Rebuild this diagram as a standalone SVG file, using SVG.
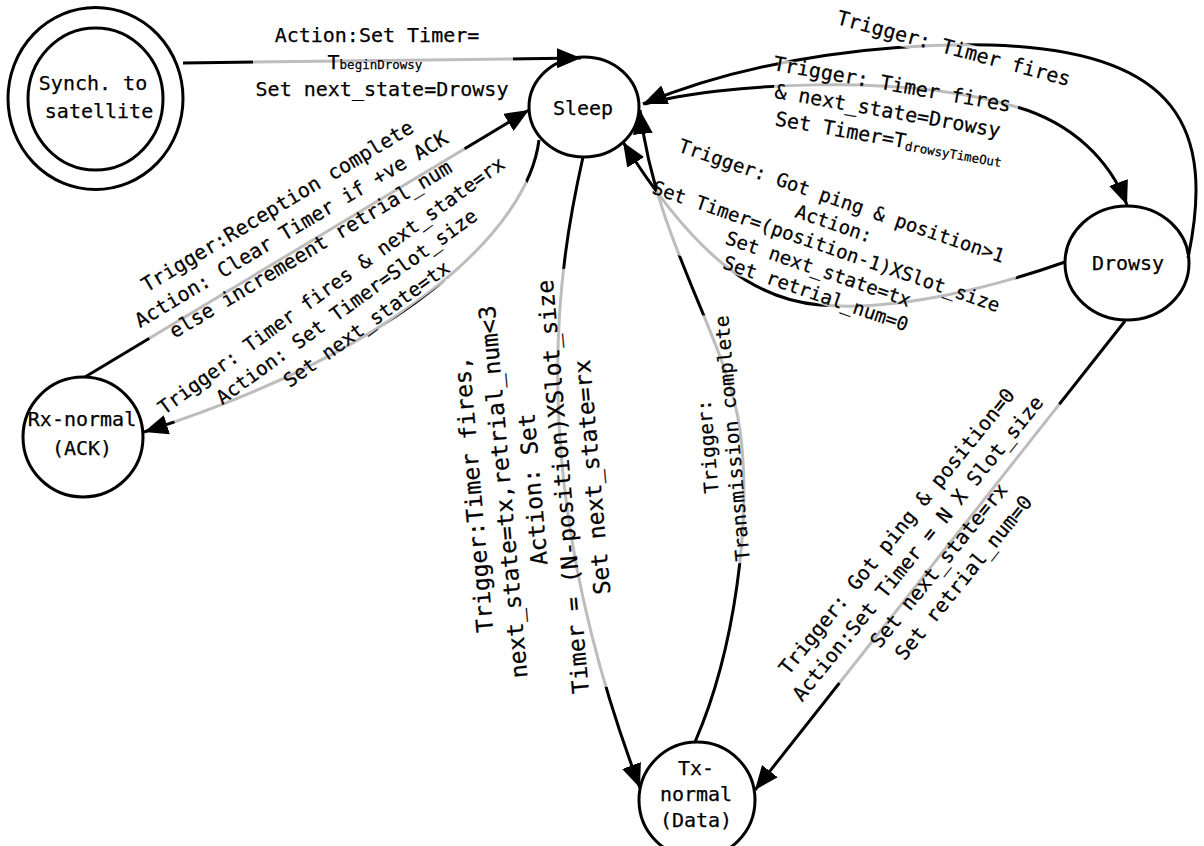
<svg xmlns="http://www.w3.org/2000/svg" width="1204" height="846" viewBox="0 0 1204 846">
  <defs>
    <marker id="arrow" viewBox="0 0 24 20" refX="24" refY="10" markerWidth="24" markerHeight="20" markerUnits="userSpaceOnUse" orient="auto">
      <path d="M0,0 L24,10 L0,20 z" fill="#000"/>
    </marker>
  </defs>
  <style>
    .node { fill: #fff; stroke: #000; stroke-width: 3; }
    .edge { fill: none; stroke: #000; stroke-width: 3; marker-end: url(#arrow); }
    text { font-family: "DejaVu Sans Mono", "Liberation Mono", monospace; font-size: 20px; fill: #000; stroke: #000; stroke-width: 0.25px; text-anchor: middle; }
    .lb { fill: #fff; fill-opacity: 0.74; stroke: none; }
    .sub { font-size: 12.5px; }
    .f19 { font-size: 19px; }
    .f195 { font-size: 19.5px; }
    .f23 { font-size: 23px; }
  </style>

  <rect width="1204" height="846" fill="#fff"/>

  <!-- states -->
  <g id="synch">
    <ellipse class="node" cx="95.5" cy="98.5" rx="87.5" ry="91"/>
    <ellipse class="node" cx="95.5" cy="99" rx="67.5" ry="71"/>
    <text x="93" y="90">Synch. to</text>
    <text x="99" y="118">satellite</text>
  </g>
  <g id="sleep">
    <ellipse class="node" cx="584" cy="107" rx="55" ry="50"/>
    <text x="583" y="115">Sleep</text>
  </g>
  <g id="drowsy">
    <ellipse class="node" cx="1127" cy="263" rx="62" ry="57"/>
    <text x="1128" y="270">Drowsy</text>
  </g>
  <g id="rx-normal">
    <circle class="node" cx="83" cy="437" r="60"/>
    <text x="82" y="426">Rx-normal</text>
    <text x="82" y="455">(ACK)</text>
  </g>
  <g id="tx-normal">
    <circle class="node" cx="697" cy="800" r="58"/>
    <text x="696" y="775">Tx-</text>
    <text x="696" y="801">normal</text>
    <text x="696" y="827">(Data)</text>
  </g>

  <!-- transitions -->
  <g id="connectors">
    <path id="e-synch-sleep" class="edge" d="M183,63 L581,58"/>
    <path id="e-drowsy-sleep-timer" class="edge" d="M1188,258 C1215,130 1180,50 990,45 C900,42.6 760,55 643,104"/>
    <path id="e-sleep-drowsy" class="edge" d="M645,104 C720,84 900,72 1017,107 C1072,123 1110,160 1127,205"/>
    <path id="e-drowsy-sleep-ping" class="edge" d="M1065,262 C1000,285 900,312 820,305 C760,300 700,265 623,142"/>
    <path id="e-tx-sleep" class="edge" d="M695,742 C735,650 752,520 740,430 C728,340 655,240 640,110"/>
    <path id="e-sleep-tx" class="edge" d="M583,157 C560,260 520,470 640,788"/>
    <path id="e-sleep-rx" class="edge" d="M539,140 C528,230 400,350 144,432"/>
    <path id="e-rx-sleep" class="edge" d="M85,377 L529,110"/>
    <path id="e-drowsy-tx" class="edge" d="M1125,321 L755,790"/>
  </g>

  <!-- transition labels: each sits on a translucent backing box -->
  <g id="l-synch-sleep">
    <rect class="lb" x="253" y="25" width="260" height="77"/>
    <text>
      <tspan x="383" y="42">Action:Set Timer=</tspan>
      <tspan x="381" y="69">T<tspan class="sub">beginDrowsy</tspan></tspan>
      <tspan x="382" y="96">Set next_state=Drowsy</tspan>
    </text>
  </g>

  <g id="l-drowsy-sleep-timer" transform="translate(952,55) rotate(15)">
    <rect class="lb" x="-122" y="-15" width="244" height="20"/>
    <text x="0" y="0">Trigger: Timer fires</text>
  </g>

  <g id="l-sleep-drowsy" transform="translate(897,92) rotate(10)">
    <rect class="lb" x="-122" y="-12" width="244" height="71"/>
    <text>
      <tspan x="0" y="0">Trigger: Timer fires</tspan>
      <tspan x="0" y="27">&amp; next_state=Drowsy</tspan>
      <tspan x="0" y="54">Set Timer=T<tspan class="sub" font-size="12" dy="2">drowsyTimeOut</tspan></tspan>
    </text>
  </g>

  <g id="l-drowsy-sleep-ping" transform="translate(845,209) rotate(19)">
    <rect class="lb" x="-184" y="-14" width="368" height="112"/>
    <text class="f19">
      <tspan x="0" y="0">Trigger: Got ping &amp; position&gt;1</tspan>
      <tspan x="0" y="24">Action:</tspan>
      <tspan x="0" y="48">Set Timer=(position-1)XSlot_size</tspan>
      <tspan x="0" y="72">Set next_state=tx</tspan>
      <tspan x="0" y="96">Set retrial_num=0</tspan>
    </text>
  </g>

  <g id="l-rx-sleep" transform="translate(300,232) rotate(-31)">
    <rect class="lb" x="-184" y="-42" width="368" height="79"/>
    <text>
      <tspan x="0" y="-27">Trigger:Reception complete</tspan>
      <tspan x="0" y="0">Action: Clear Timer if +ve ACK</tspan>
      <tspan x="0" y="27">else incremeent retrial_num</tspan>
    </text>
  </g>

  <g id="l-sleep-rx" transform="translate(340,287.5) rotate(-36)">
    <rect class="lb" x="-213" y="-15" width="426" height="72"/>
    <text class="f195">
      <tspan x="0" y="0">Trigger: Timer fires &amp; next_state=rx</tspan>
      <tspan x="0" y="26">Action: Set Timer=Slot_size</tspan>
      <tspan x="0" y="52">Set next_state=tx</tspan>
    </text>
  </g>

  <g id="l-sleep-tx" transform="translate(480.6,487) rotate(-95)">
    <rect class="lb" x="-210" y="-17" width="420" height="143"/>
    <text class="f23">
      <tspan x="0" y="0">Trigger:Timer fires,</tspan>
      <tspan x="0" y="30">next_state=tx,retrial_num&lt;3</tspan>
      <tspan x="0" y="60">Action: Set</tspan>
      <tspan x="0" y="90">Timer = (N-position)XSlot_size</tspan>
      <tspan x="0" y="120">Set next_state=rx</tspan>
    </text>
  </g>

  <g id="l-tx-sleep" transform="translate(714,440) rotate(-95)">
    <rect class="lb" x="-125" y="-15" width="250" height="45"/>
    <text class="f195">
      <tspan x="0" y="0">Trigger:</tspan>
      <tspan x="0" y="25">Transmission complete</tspan>
    </text>
  </g>

  <g id="l-drowsy-tx" transform="translate(906,531) rotate(-51)">
    <rect class="lb" x="-160" y="-15" width="355" height="101"/>
    <text>
      <tspan x="0" y="0">Trigger: Got ping &amp; position=0</tspan>
      <tspan x="0" y="27">Action:Set Timer = N X Slot_size</tspan>
      <tspan x="0" y="54">Set next_state=rx</tspan>
      <tspan x="0" y="81">Set retrial_num=0</tspan>
    </text>
  </g>
</svg>
